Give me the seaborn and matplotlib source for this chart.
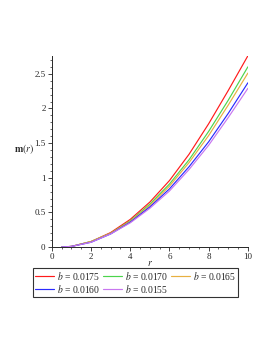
import numpy as np
import pandas as pd
import seaborn as sns
from matplotlib import pyplot as plt
from matplotlib.ticker import MultipleLocator

# valores
r = [0.5, 1, 2, 3, 4, 5, 6, 7, 8, 9, 10]
m_0175 = [0.0, 0.01, 0.08, 0.21, 0.40, 0.65, 0.96, 1.34, 1.78, 2.26, 2.76]
m_0170 = [0.0, 0.01, 0.08, 0.20, 0.38, 0.62, 0.91, 1.26, 1.67, 2.12, 2.60]
m_0165 = [0.0, 0.01, 0.08, 0.20, 0.37, 0.60, 0.88, 1.22, 1.61, 2.05, 2.51]
m_0160 = [0.0, 0.01, 0.07, 0.19, 0.36, 0.58, 0.84, 1.16, 1.52, 1.93, 2.37]
m_0155 = [0.0, 0.01, 0.07, 0.19, 0.35, 0.56, 0.81, 1.12, 1.47, 1.87, 2.29]
etiquetas = ["0.0175", "0.0170", "0.0165", "0.0160", "0.0155"]
colores = ["#ff1a1a", "#4cd44c", "#e8b040", "#2a2aff", "#c877f0"]

series = [m_0175, m_0170, m_0165, m_0160, m_0155]
filas = []
for etq, valores in zip(etiquetas, series):
    for x, y in zip(r, valores):
        filas.append({"r": x, "m": y, "b": "$b$ = " + etq})
df = pd.DataFrame(filas)

sns.set_style("ticks")
plt.rcParams['font.family'] = ['Liberation Serif', 'DejaVu Serif']
plt.rcParams['mathtext.fontset'] = 'stix'

fig = plt.figure(figsize=(2.73, 3.53), dpi=100)
ax = fig.add_axes([0.19, 0.30, 0.718, 0.54])

sns.lineplot(data=df, x="r", y="m", hue="b", palette=colores, linewidth=0.85,
             ax=ax, legend=True)

ax.set_xlim(0, 10)
ax.set_ylim(0, 2.75)
ax.xaxis.set_major_locator(MultipleLocator(2))
ax.xaxis.set_minor_locator(MultipleLocator(0.5))
ax.yaxis.set_major_locator(MultipleLocator(0.5))
ax.yaxis.set_minor_locator(MultipleLocator(0.1))
ax.tick_params(which='major', length=3, width=0.6, labelsize=6.5, pad=1.5)
ax.tick_params(which='minor', length=1.5, width=0.5)
ax.set_yticks([0, 0.5, 1, 1.5, 2, 2.5])
ax.set_yticklabels(["0", "0.5", "1", "1.5", "2", "2.5"])
sns.despine(ax=ax)
for s in ["left", "bottom"]:
    ax.spines[s].set_linewidth(0.7)

ax.set_xlabel("$r$", fontsize=7, labelpad=0)
ax.xaxis.set_label_coords(0.5, -0.062)
ax.set_ylabel("$\\mathbf{m}(r)$", fontsize=7, rotation=0)
ax.yaxis.set_label_coords(-0.14, 0.48)

handles, labels = ax.get_legend_handles_labels()
ax.get_legend().remove()
# orden para que se lea por filas
orden = [0, 3, 1, 4, 2]
leg = fig.legend([handles[i] for i in orden], [labels[i] for i in orden],
                 ncol=3, loc='upper left',
                 bbox_to_anchor=(0.12, 0.241), fontsize=6.9, frameon=True,
                 fancybox=False, edgecolor='black', handlelength=2.0,
                 handletextpad=0.3, columnspacing=0.3, labelspacing=0.1,
                 borderpad=0.2, borderaxespad=0)
leg.get_frame().set_linewidth(0.8)

plt.savefig("out.png", dpi=100)
